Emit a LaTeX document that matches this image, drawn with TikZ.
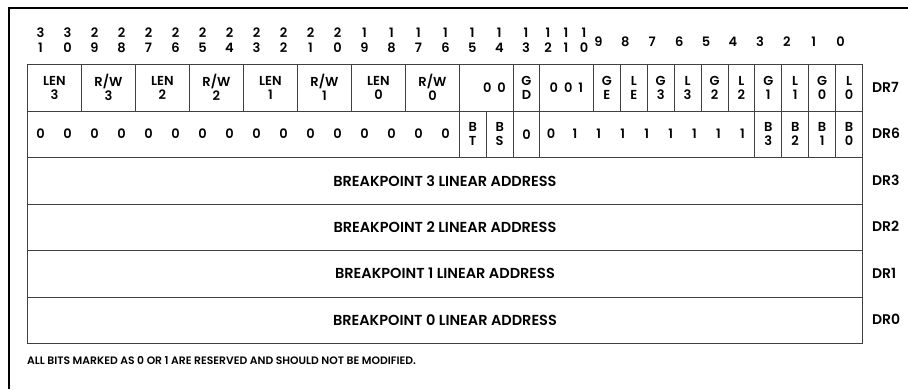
\documentclass[tikz,border=0pt]{standalone}
\usepackage{fontspec}
\setmainfont{Poppins SemiBold}
\usetikzlibrary{positioning}

\begin{document}
\begin{tikzpicture}[x=1pt, y=-1pt, font=\fontsize{13}{14}\selectfont,
		frame/.style={line width=1.6pt},
		field/.style={draw=black!75, line width=0.9pt, anchor=north west, minimum height=46.5pt, inner sep=0pt, align=center},
		bitnum/.style={inner sep=0pt, font=\fontsize{13}{14}\selectfont},
		reg/.style={anchor=west, inner sep=0pt, font=\fontsize{14}{16}\selectfont}]
			\useasboundingbox (0,0) rectangle (908,389);
			\draw[frame] (908,8) -- (9,8) -- (9,389);
			
			\foreach \b [evaluate=\b as \tn using int(\b/10), evaluate=\b as \un using int(\b-10*int(\b/10))] in {31,...,16} {
				\node[bitnum] (t\b) at ({877.5-27*\b},33) {\tn};
				\node[bitnum] (u\b) at ({877.5-27*\b},48) {\un};
			}
			\foreach \b/\x in {15/472.3, 14/499.3, 13/526, 12/548, 11/566, 10/584} {
				\node[bitnum] (t\b) at (\x,33) {1};
				\node[bitnum] (u\b) at (\x,48) {\pgfmathparse{int(\b-10)}\pgfmathresult};
			}
			\foreach \b in {9,...,0}
				\node[bitnum] (s\b) at ({593+(9-\b)*26.9+5.5},42) {\b};
			
			\foreach \t [count=\i from 0] in {LEN\\3, R/W\\3, LEN\\2, R/W\\2, LEN\\1, R/W\\1, LEN\\0, R/W\\0}
				\node[field, minimum width=54pt] (dr7f\i) at ({27+54*\i},64) {\t};
			\node[field, minimum width=54pt] (dr7r) at (459,64) {\hspace{16pt}0\hspace{6pt}0};
			\node[field, minimum width=26pt] (gd) at (513,64) {G\\D};
			\node[field, minimum width=54pt] (dr7s) at (539,64) {0\hspace{6pt}0\hspace{6pt}1};
			\foreach \t [count=\i from 0] in {G\\E, L\\E, G\\3, L\\3, G\\2, L\\2, G\\1, L\\1, G\\0, L\\0}
				\node[field, minimum width=26.9pt] (dr7b\i) at ({593+26.9*\i},64) {\t};
			
			\node[field, minimum width=432pt] (dr6z) at (27,110.5) {};
			\foreach \b in {31,...,16}
				\node (z\b) at ({877.5-27*\b},133.75) {0};
			\node[field, minimum width=26.5pt] (bt) at (459,110.5) {B\\T};
			\node[field, minimum width=27.5pt] (bs) at (485.5,110.5) {B\\S};
			\node[field, minimum width=26pt] (dr6c) at (513,110.5) {0};
			\node[field, minimum width=215.4pt] (dr6o) at (539,110.5) {};
			\foreach \v [count=\i from 0] in {0,1,1,1,1,1,1,1,1}
				\node (o\i) at ({539+23.93*(\i+0.5)},133.75) {\v};
			\foreach \t [count=\i from 0] in {B\\3, B\\2, B\\1, B\\0}
				\node[field, minimum width=26.9pt] (bb\i) at ({754.4+26.9*\i},110.5) {\t};
			
			\foreach \r [count=\i from 0] in {3,2,1,0}
				\node[field, minimum width=835pt, font=\fontsize{14.5}{16}\selectfont] (bp\r) at (27,{157+46.5*\i}) {BREAKPOINT \r\ LINEAR ADDRESS};
			
			\foreach \n/\y in {DR7/87.25, DR6/133.75, DR3/180.25, DR2/226.75, DR1/273.25, DR0/319.75}
				\node[reg] (\n) at (872,\y) {\n};
			
			\node[anchor=west, inner sep=0pt, font=\fontsize{10.8}{13}\selectfont] (note) at (27,361) {ALL BITS MARKED AS 0 OR 1 ARE RESERVED AND SHOULD NOT BE MODIFIED.};
		\end{tikzpicture}
\end{document}
